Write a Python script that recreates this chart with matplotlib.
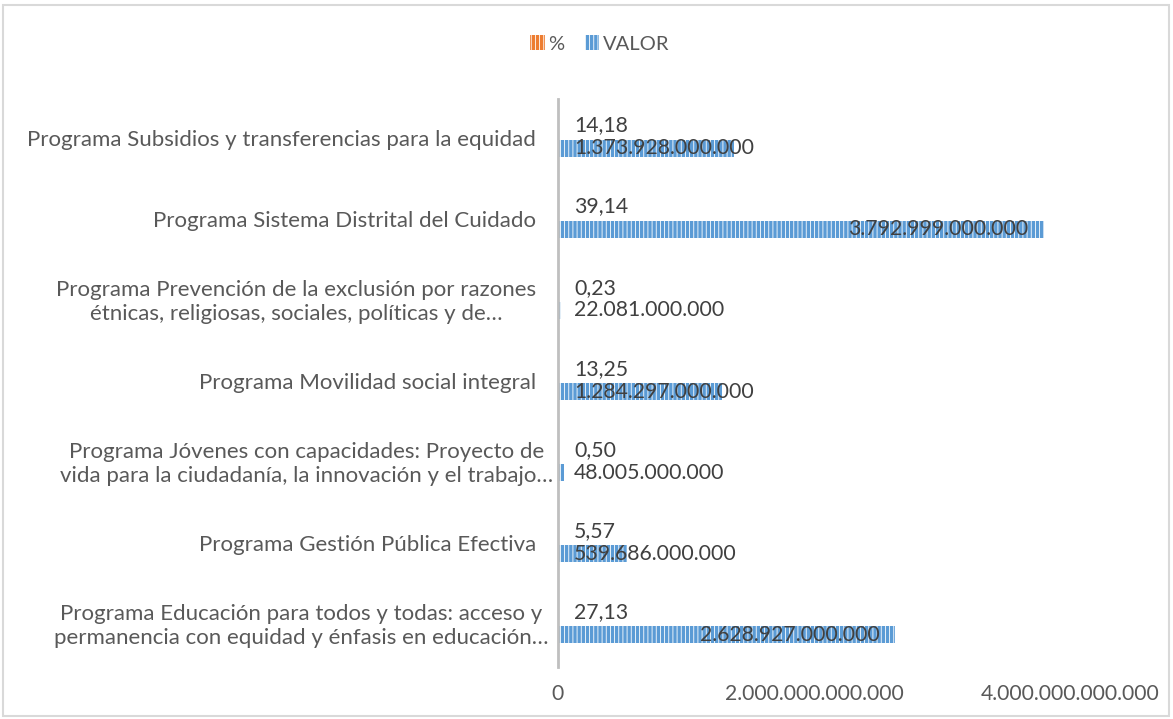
import matplotlib
matplotlib.use("Agg")
from matplotlib import pyplot as plt
from matplotlib.patches import Patch, Rectangle
from matplotlib.transforms import offset_copy, blended_transform_factory

# data, top to bottom as shown
programas = [
    "Programa Subsidios y transferencias para la equidad",
    "Programa Sistema Distrital del Cuidado",
    "Programa Prevención de la exclusión por razones\nétnicas, religiosas, sociales, políticas y de…",
    "Programa Movilidad social integral",
    "Programa Jóvenes con capacidades: Proyecto de\nvida para la ciudadanía, la innovación y el trabajo…",
    "Programa Gestión Pública Efectiva",
    "Programa Educación para todos y todas: acceso y\npermanencia con equidad y énfasis en educación…",
]
porcentaje = [14.18, 39.14, 0.23, 13.25, 0.50, 5.57, 27.13]
valor = [1373928000000, 3792999000000, 22081000000, 1284297000000,
         48005000000, 539686000000, 2628927000000]
xticks = [0, 2e12, 4e12]
series_names = ["%", "VALOR"]

TEXT = "#595959"
BLUE = "#5B9BD5"
ORANGE = "#ED7D31"
CAT_FONT = 16.0
LBL_FONT = 15.3
TICK_FONT = 15.2
LEG_FONT = 14.5


def miles(v):
    return f"{int(round(v)):,}".replace(",", ".")


def coma(v):
    return f"{v:.2f}".replace(".", ",")


plt.rcParams["font.family"] = ["Lato", "DejaVu Sans"]
plt.rcParams["hatch.linewidth"] = 0.6

fig = plt.figure(figsize=(11.73, 7.19), dpi=100)
ax = fig.add_axes([558 / 1173, 1 - 667 / 719, 512 / 1173, 568 / 719])

# outer chart border
fig.patches.append(Rectangle((3 / 1173, 3 / 719), 1166 / 1173, 711 / 719,
                             transform=fig.transFigure, fill=False,
                             edgecolor="#D9D9D9", lw=1.5))

h = 0.21
ys = list(range(len(programas)))
ax.barh([y - h / 2 for y in ys], porcentaje, height=h, color=ORANGE,
        edgecolor="white", linewidth=0, hatch="||||")
ax.barh([y + h / 2 for y in ys], valor, height=h, color=BLUE,
        edgecolor="white", linewidth=0, hatch="||||")

ax.set_xlim(0, 4e12)
ax.set_ylim(len(programas) - 0.5, -0.5)
ax.set_xticks(xticks)
ax.set_xticklabels([miles(t) for t in xticks], color=TEXT, fontsize=TICK_FONT)
ax.set_yticks(ys)
ax.set_yticklabels([])
ax.tick_params(axis="both", length=0)
ax.tick_params(axis="x", pad=12)
for s in ["top", "right", "bottom"]:
    ax.spines[s].set_visible(False)
ax.spines["left"].set_color("#BFBFBF")
ax.spines["left"].set_linewidth(2)

fig.canvas.draw()
renderer = fig.canvas.get_renderer()

# category labels: the trailing ellipsis hangs past the label box
ytrans = blended_transform_factory(ax.transAxes, ax.transData)
for y, lab in zip(ys, programas):
    kw = dict(fontsize=CAT_FONT, color=TEXT, ha="right", va="center",
              multialignment="center", linespacing=1.25)
    probe = ax.text(0, y, lab, transform=ytrans, **kw)
    w_full = probe.get_window_extent(renderer).width
    probe.set_text(lab.rstrip("…"))
    w_trim = probe.get_window_extent(renderer).width
    probe.remove()
    hang = w_full - w_trim if lab.endswith("…") else 0
    ax.text(0, y, lab, transform=offset_copy(ytrans, fig=fig, x=-22 + hang, y=0, units="dots"), **kw)

# data labels
ax_px = ax.get_window_extent(renderer).width
dpp = 4e12 / ax_px
for y, p, v in zip(ys, porcentaje, valor):
    ax.text(p, y - h / 2 - 0.07, coma(p), color="#404040", fontsize=LBL_FONT,
            va="center", ha="left",
            transform=offset_copy(ax.transData, fig=fig, x=16, y=0, units="dots"))
    t = ax.text(0, y + h / 2, miles(v), color="#404040", fontsize=LBL_FONT,
                va="center", ha="left")
    w = t.get_window_extent(renderer).width
    if v / dpp - 14 - w >= 16:
        t.set_x(v)
        t.set_ha("right")
        t.set_transform(offset_copy(ax.transData, fig=fig, x=-15, y=0, units="dots"))
    else:
        t.set_transform(offset_copy(ax.transData, fig=fig, x=16, y=0, units="dots"))

handles = [Patch(facecolor=ORANGE, edgecolor="white", linewidth=0, hatch="||||"),
           Patch(facecolor=BLUE, edgecolor="white", linewidth=0, hatch="||||")]
fig.legend(handles, series_names, loc="center", bbox_to_anchor=(600 / 1173, 1 - 44 / 719),
           ncol=2, frameon=False, fontsize=LEG_FONT, labelcolor=TEXT,
           handlelength=0.7, handleheight=0.7, handletextpad=0.2, columnspacing=1.0)

fig.savefig("out.png", dpi=100)
